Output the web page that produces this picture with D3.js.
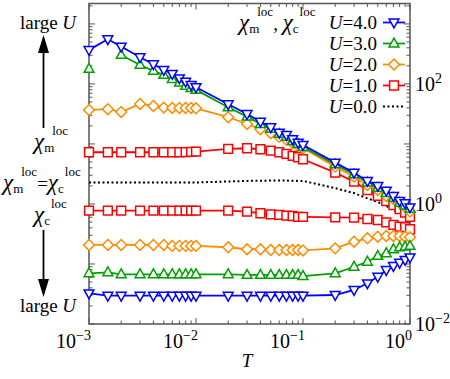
<!DOCTYPE html>
<html>
<head>
<meta charset="utf-8">
<script src="https://cdn.jsdelivr.net/npm/d3@7"></script>
<style>
  body { margin: 0; background: #fff; }
  svg { display: block; }
  svg text { font-family: "Liberation Serif", "DejaVu Serif", serif; }
</style>
</head>
<body>
<svg width="450" height="379"></svg>
<script>
const width = 450;
const height = 379;
const margin = { top: 3.5, right: 40, bottom: 55, left: 89 };

// temperatures
const T = [0.001, 0.0015, 0.002, 0.003, 0.004, 0.005, 0.006, 0.007, 0.008, 0.009,
           0.01, 0.02, 0.03, 0.04, 0.05, 0.06, 0.07, 0.08, 0.09,
           0.1, 0.2, 0.3, 0.4, 0.5, 0.6, 0.7, 0.8, 0.9, 1.0];

// chi_m^loc (upper branch)
const chiM_U4 = [369, 556, 419, 279, 213, 171, 147, 124, 109, 96,
                 88, 45.9, 31.6, 23.5, 19.0, 15.4, 14.1, 12.0, 10.5,
                 9.6, 4.88, 3.32, 2.42, 2.0, 1.67, 1.36, 1.12, 1.03, 0.88];
const chiM_U3 = [178, null, 304, 207, 165, 141, 120, 105, 92.6, 84.8,
                 79.4, 40.9, 28.5, 21.5, 17.8, 14.7, 13.1, 11.2, 10,
                 8.9, 4.55, 3.10, 2.28, 1.85, 1.52, 1.26, 1.04, 0.94, 0.83];
const chiM_U2 = [36.9, 37.9, 34.1, 46.4, 43.0, 40.3, 39.8, 39.8, 39.8, 39.8,
                 39.3, 27.9, 21.5, 17.6, 15.1, 13.1, 11.7, 10.4, 9.26,
                 8.48, 4.19, 2.85, 2.07, 1.71, 1.36, 1.21, 1.04, 0.90, 0.745];
const chiM_U1 = [7.27, 7.27, 7.27, 7.27, 7.27, 7.27, 7.27, 7.27, 7.3, 7.35,
                 7.45, 8.25, 8.48, 8.16, 7.73, 7.27, 6.81, 6.31, 6.0,
                 5.56, 3.32, 2.35, 1.71, 1.36, 1.12, 0.96, 0.82, 0.72, 0.61];
// U = 0 (chi_m = chi_c)
const chi_U0 = [2.28, 2.28, 2.28, 2.28, 2.28, 2.28, 2.28, 2.28, 2.28, 2.28,
                2.28, 2.37, 2.42, 2.44, 2.45, 2.45, 2.45, 2.44, 2.42,
                2.42, 1.83, 1.52, 1.24, 1.08, 0.93, 0.79, 0.71, 0.62, 0.54];
// chi_c^loc (lower branch)
const chiC_U1 = [0.773, 0.773, 0.773, 0.773, 0.773, 0.773, 0.773, 0.773, 0.773, 0.773,
                 0.773, 0.773, 0.745, 0.70, 0.673, 0.656, 0.64, 0.63, 0.61,
                 0.61, 0.60, 0.59, 0.562, 0.54, 0.495, 0.447, 0.419, 0.41, 0.379];
const chiC_U2 = [0.2075, 0.2075, 0.2075, 0.2075, 0.2075, 0.2075, 0.2, 0.2, 0.2, 0.2,
                 0.2, 0.19, 0.176, 0.176, 0.171, 0.171, 0.171, 0.171, 0.171,
                 0.168, 0.182, 0.235, 0.268, 0.285, 0.293, 0.293, 0.293, 0.285, 0.278];
const chiC_U3 = [0.070, 0.0727, 0.0673, 0.0673, 0.0673, 0.0673, 0.0673, 0.0673, 0.0673, 0.0673,
                 0.0673, 0.0673, 0.0656, 0.0656, 0.0656, 0.0656, 0.0656, 0.0656, 0.0656,
                 0.063, 0.070, 0.090, 0.109, 0.136, 0.151, 0.176, 0.19, 0.194, 0.2];
const chiC_U4 = [0.0325, 0.0296, 0.0296, 0.0296, 0.0296, 0.0296, 0.0296, 0.0296, 0.0296, 0.0296,
                 0.0296, 0.0296, 0.0296, 0.0296, 0.0296, 0.0296, 0.0296, 0.0296, 0.0296,
                 0.0296, 0.0304, 0.0369, 0.0476, 0.0614, 0.0794, 0.0926, 0.105, 0.117, 0.129];

const legendLabels = ["U=4.0", "U=3.0", "U=2.0", "U=1.0", "U=0.0"];
const xTickLabels = ["-3", "-2", "-1", "0"];
const yTickLabels = ["2", "0", "-2"];

const series = [
  { u: 4, color: "#0000ff", marker: "tdown", data: [chiM_U4, chiC_U4] },
  { u: 3, color: "#00a000", marker: "tup", data: [chiM_U3, chiC_U3] },
  { u: 2, color: "#ff8c00", marker: "diamond", data: [chiM_U2, chiC_U2] },
  { u: 1, color: "#ff0000", marker: "square", data: [chiM_U1, chiC_U1] }
];

const svg = d3.select("svg");
const x = d3.scaleLog().domain([1e-3, 1]).range([margin.left, width - margin.right]);
const y = d3.scaleLog().domain([1e-2, Math.pow(10, 3.34)]).range([height - margin.bottom, margin.top]);
const x0 = x.range()[0], x1 = x.range()[1];
const y0 = y.range()[0], y1 = y.range()[1];
const axisColor = "#555";

// ticks (inside, on all four sides)
const isMajor = v => Math.abs(Math.log10(v) - Math.round(Math.log10(v))) < 1e-6;
const ticks = svg.append("g").attr("stroke", axisColor).attr("stroke-width", 1);
x.ticks().forEach(v => {
  const len = isMajor(v) ? 6 : 3.5;
  ticks.append("line").attr("x1", x(v)).attr("x2", x(v)).attr("y1", y0).attr("y2", y0 - len);
  ticks.append("line").attr("x1", x(v)).attr("x2", x(v)).attr("y1", y1).attr("y2", y1 + len);
});
y.ticks().filter(v => v <= y.domain()[1]).forEach(v => {
  const len = isMajor(v) ? 6 : 3.5;
  ticks.append("line").attr("y1", y(v)).attr("y2", y(v)).attr("x1", x0).attr("x2", x0 + len);
  ticks.append("line").attr("y1", y(v)).attr("y2", y(v)).attr("x1", x1).attr("x2", x1 - len);
});

svg.append("rect")
  .attr("x", x0).attr("y", y1).attr("width", x1 - x0).attr("height", y0 - y1)
  .attr("fill", "none").attr("stroke", axisColor).attr("stroke-width", 1.5);

// tick labels
xTickLabels.forEach(p => {
  const t = svg.append("text").attr("x", x(Math.pow(10, +p)) + 2).attr("y", 348)
    .attr("text-anchor", "end").attr("font-size", 20);
  t.append("tspan").text("10");
  t.append("tspan").attr("dy", -8).attr("font-size", 14).text(p.replace("-", "\u2212"));
});
yTickLabels.forEach(p => {
  const t = svg.append("text").attr("x", x1 + 5).attr("y", y(Math.pow(10, +p)) + 7)
    .attr("font-size", 20);
  t.append("tspan").text("10");
  t.append("tspan").attr("dy", -8).attr("font-size", 14).text(p.replace("-", "\u2212"));
});

svg.append("text").attr("x", 247).attr("y", 367).attr("text-anchor", "middle")
  .attr("font-size", 19).attr("font-style", "italic").text("T");

// lines and markers
const line = d3.line().defined(d => d[1] != null).x(d => x(d[0])).y(d => y(d[1]));

function marker(g, type, color, cx, cy) {
  const s = 4.4;
  let path;
  if (type === "square") path = `M${cx - s},${cy - s}h${2 * s}v${2 * s}h${-2 * s}Z`;
  else if (type === "diamond") path = `M${cx},${cy - s - 1}L${cx + s + 1},${cy}L${cx},${cy + s + 1}L${cx - s - 1},${cy}Z`;
  else if (type === "tup") path = `M${cx},${cy - s - 1}L${cx + s + 0.5},${cy + s - 1}L${cx - s - 0.5},${cy + s - 1}Z`;
  else path = `M${cx},${cy + s + 1}L${cx + s + 0.5},${cy - s + 1}L${cx - s - 0.5},${cy - s + 1}Z`;
  g.append("path").attr("d", path).attr("fill", "#fff").attr("stroke", color).attr("stroke-width", 1.5);
}

// U = 0 dotted
svg.append("path").datum(T.map((t, i) => [t, chi_U0[i]]))
  .attr("d", line).attr("fill", "none").attr("stroke", "#000")
  .attr("stroke-width", 2).attr("stroke-dasharray", "2,2.5");

series.slice().reverse().forEach(s => {
  s.data.forEach(arr => {
    const pts = T.map((t, i) => [t, arr[i]]);
    const g = svg.append("g");
    g.append("path").datum(pts).attr("d", line).attr("fill", "none")
      .attr("stroke", s.color).attr("stroke-width", 1.8);
    pts.filter(d => d[1] != null).forEach(d => marker(g, s.marker, s.color, x(d[0]), y(d[1])));
  });
});

// chi with sub- and superscript
function chiParts(t, sub, dxSup) {
  t.append("tspan").attr("font-style", "italic").attr("font-size", 23).text("\u03c7");
  t.append("tspan").attr("font-size", 13).attr("dy", 3).text(sub);
  t.append("tspan").attr("font-size", 13).attr("dy", -17).attr("dx", dxSup).text("loc");
}

// legend
const legend = svg.append("g");
const title = legend.append("text").attr("x", 239).attr("y", 30).attr("font-size", 19);
chiParts(title, "m", -2);
title.append("tspan").attr("dy", 14).text(",\u00a0");
chiParts(title, "c", 1);

legendLabels.forEach((lab, i) => {
  const ly = 22.5 + i * 21;
  const t = legend.append("text").attr("x", 377).attr("y", ly + 6.5).attr("text-anchor", "end").attr("font-size", 19);
  t.append("tspan").attr("font-style", "italic").text("U");
  t.append("tspan").text(lab.slice(1));
  if (i < series.length) {
    const s = series[i];
    legend.append("line").attr("x1", 383).attr("x2", 405).attr("y1", ly).attr("y2", ly)
      .attr("stroke", s.color).attr("stroke-width", 1.8);
    marker(legend, s.marker, s.color, 394, ly);
  } else {
    legend.append("line").attr("x1", 383).attr("x2", 405).attr("y1", ly).attr("y2", ly)
      .attr("stroke", "#000").attr("stroke-width", 2).attr("stroke-dasharray", "2,2.5");
  }
});

// left annotations
const ann = svg.append("g").attr("font-size", 19);
function largeU(yy) {
  const t = ann.append("text").attr("x", 48).attr("y", yy).attr("text-anchor", "middle");
  t.append("tspan").text("large ");
  t.append("tspan").attr("font-style", "italic").text("U");
}
largeU(29);
largeU(312);

chiParts(ann.append("text").attr("x", 34).attr("y", 149), "m", -2);
chiParts(ann.append("text").attr("x", 34).attr("y", 222), "c", 1);
const eq = ann.append("text").attr("x", 3).attr("y", 190);
chiParts(eq, "m", -2);
eq.append("tspan").attr("dy", 14).text("=");
chiParts(eq, "c", 1);

// arrows
ann.append("line").attr("x1", 43.5).attr("x2", 43.5).attr("y1", 128).attr("y2", 50)
  .attr("stroke", "#000").attr("stroke-width", 1.8);
ann.append("path").attr("d", "M43.5,35L49,53L38,53Z").attr("fill", "#000");
ann.append("line").attr("x1", 43.5).attr("x2", 43.5).attr("y1", 230).attr("y2", 282)
  .attr("stroke", "#000").attr("stroke-width", 1.8);
ann.append("path").attr("d", "M43.5,297L49,279L38,279Z").attr("fill", "#000");
</script>
</body>
</html>
